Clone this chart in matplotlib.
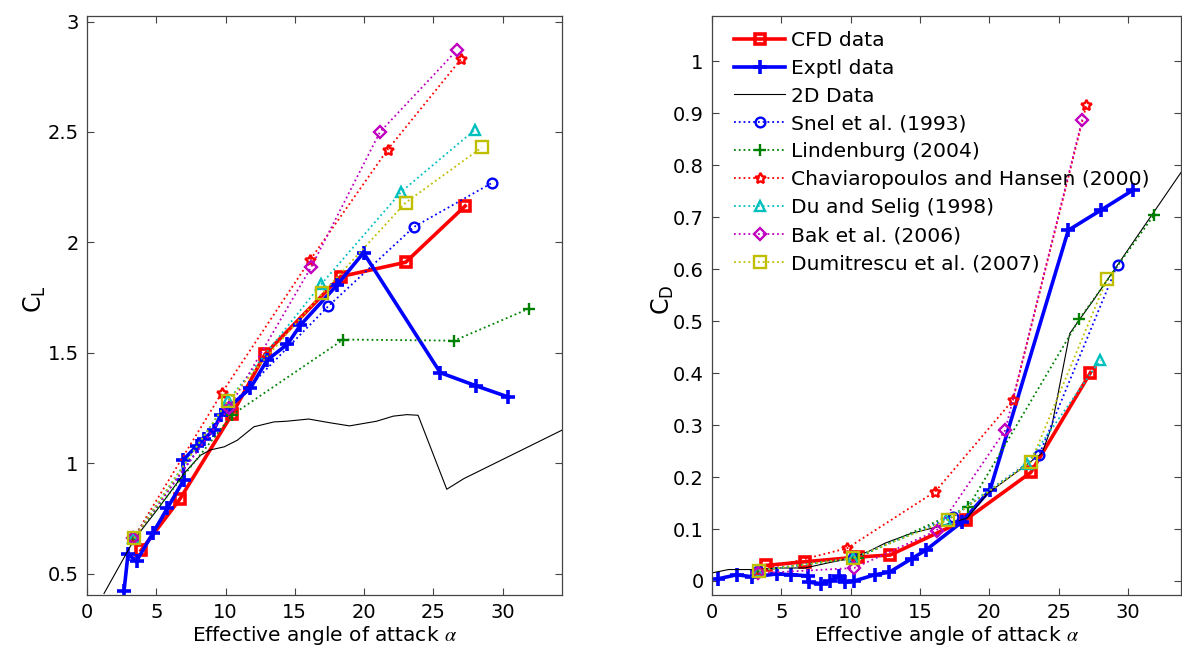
import matplotlib
matplotlib.use("Agg")
import matplotlib.pyplot as plt
from matplotlib.ticker import FuncFormatter, MultipleLocator

plt.rcParams["font.family"] = ["DejaVu Sans"]
plt.rcParams["mathtext.fontset"] = "stix"

# CFD results
alpha_cfd = [3.9, 6.7, 10.5, 12.85, 18.3, 23.0, 27.3]
cl_cfd = [0.605, 0.837, 1.225, 1.494, 1.845, 1.91, 2.165]
cd_cfd = [0.030, 0.037, 0.046, 0.050, 0.118, 0.209, 0.401]

# experimental data
alpha_exp_cl = [2.67, 2.96, 3.58, 4.76, 5.79, 7.0, 6.93, 7.96, 8.44, 9.16, 9.64, 10.0,
                11.8, 13.0, 14.47, 15.4, 18.04, 19.96, 25.5, 28.1, 30.4]
cl_exp = [0.42, 0.588, 0.557, 0.684, 0.795, 0.926, 1.014, 1.08, 1.11, 1.15, 1.218, 1.24,
          1.34, 1.467, 1.539, 1.625, 1.806, 1.953, 1.41, 1.35, 1.30]
alpha_exp_cd = [0.4, 1.8, 2.9, 4.7, 5.7, 6.9, 7.0, 7.85, 8.5, 9.15, 9.6, 10.25,
                11.75, 12.8, 14.4, 15.4, 18.0, 20.05, 25.7, 28.07, 30.35]
cd_exp = [0.004, 0.012, 0.008, 0.0136, 0.012, 0.010, -0.0025, -0.005, 0.0, 0.009, -0.002, 0.0,
          0.012, 0.017, 0.043, 0.059, 0.113, 0.175, 0.675, 0.714, 0.752]

# 2D airfoil data
alpha_2d_cl = [1.23, 3.4, 5.2, 7.0, 8.2, 8.9, 9.9, 10.85, 12.05, 13.5, 14.4, 16.0, 17.55,
               18.95, 20.9, 22.1, 23.1, 23.9, 25.97, 27.2, 34.3]
cl_2d = [0.41, 0.654, 0.80, 0.953, 1.036, 1.06, 1.074, 1.104, 1.165, 1.187, 1.19, 1.20, 1.183,
         1.169, 1.19, 1.213, 1.22, 1.217, 0.882, 0.93, 1.15]
alpha_2d_cd = [0.0, 1.18, 3.1, 4.8, 6.7, 8.4, 10.1, 11.3, 12.5, 14.4, 16.4, 18.4, 19.9,
               22.2, 23.8, 24.5, 25.8, 26.4, 27.5, 33.85]
cd_2d = [0.0155, 0.022, 0.022, 0.025, 0.025, 0.035, 0.044, 0.057, 0.073, 0.092, 0.105, 0.121,
         0.169, 0.214, 0.246, 0.297, 0.476, 0.499, 0.54, 0.787]

# 3D correction models
alpha_snel = [3.35, 10.2, 17.4, 23.6, 29.25]
cl_snel = [0.66, 1.25, 1.71, 2.07, 2.27]
cd_snel = [0.020, 0.044, 0.124, 0.243, 0.609]

alpha_lind = [3.35, 10.5, 18.5, 26.5, 31.9]
cl_lind = [0.66, 1.22, 1.56, 1.555, 1.70]
cd_lind = [0.020, 0.045, 0.143, 0.504, 0.705]

alpha_chav = [3.35, 9.75, 16.1, 21.7, 27.0]
cl_chav = [0.66, 1.32, 1.92, 2.42, 2.83]
cd_chav = [0.020, 0.063, 0.172, 0.348, 0.916]

alpha_du = [3.35, 10.2, 16.9, 22.7, 28.0]
cl_du = [0.66, 1.285, 1.81, 2.23, 2.51]
cd_du = [0.020, 0.044, 0.117, 0.225, 0.425]

alpha_bak = [3.35, 10.25, 16.2, 21.15, 26.7]
cl_bak = [0.66, 1.25, 1.89, 2.50, 2.87]
cd_bak = [0.015, 0.025, 0.097, 0.290, 0.888]

alpha_dum = [3.4, 10.15, 17.0, 23.0, 28.5]
cl_dum = [0.66, 1.28, 1.77, 2.18, 2.43]
cd_dum = [0.020, 0.044, 0.117, 0.229, 0.582]

labels = ["CFD data", "Exptl data", "2D Data", "Snel et al. (1993)", "Lindenburg (2004)",
          "Chaviaropoulos and Hansen (2000)", "Du and Selig (1998)", "Bak et al. (2006)",
          "Dumitrescu et al. (2007)"]

GREEN = (0, 0.5, 0)
CYAN = (0, 0.75, 0.75)
MAGENTA = (0.75, 0, 0.75)
YELLOW = (0.75, 0.75, 0)
STAR = (5, 1, 0)


def draw(ax, cfd, exp_a, exp_v, a2d, v2d, models):
    ax.plot(alpha_cfd, cfd, "-", color="red", lw=2.6, marker="s", ms=7, mfc="none",
            mew=2.6, label=labels[0])
    ax.plot(exp_a, exp_v, "-", color="blue", lw=2.6, marker="+", ms=10, mew=2.6,
            label=labels[1])
    ax.plot(a2d, v2d, "-", color="black", lw=0.8, label=labels[2])
    styles = [("blue", "o", 7), (GREEN, "+", 9), ("red", STAR, 8),
              (CYAN, "^", 7), (MAGENTA, "D", 6), (YELLOW, "s", 8)]
    for (a, v), (c, m, s), lab in zip(models, styles, labels[3:]):
        ax.plot(a, v, ":", color=c, lw=1.3, marker=m, ms=s, mfc="none", mew=1.7,
                label=lab)


def style(ax):
    ax.tick_params(direction="in", top=True, right=True, length=5, width=0.8,
                   labelsize=14, colors="#444444", labelcolor="black", pad=6)
    for sp in ax.spines.values():
        sp.set_color("#444444")
        sp.set_linewidth(0.9)
    ax.xaxis.set_major_locator(MultipleLocator(5))
    ax.yaxis.set_major_formatter(FuncFormatter(lambda v, p: "%g" % round(v, 3)))
    ax.set_xlabel(r"Effective angle of attack $\alpha$", fontsize=14.5, labelpad=1)


fig = plt.figure(figsize=(11.82, 6.51), dpi=100)
ax1 = fig.add_axes([0.0736, 0.086, 0.402, 0.890])
ax2 = fig.add_axes([0.6024, 0.086, 0.397, 0.890])

draw(ax1, cl_cfd, alpha_exp_cl, cl_exp, alpha_2d_cl, cl_2d,
     [(alpha_snel, cl_snel), (alpha_lind, cl_lind), (alpha_chav, cl_chav),
      (alpha_du, cl_du), (alpha_bak, cl_bak), (alpha_dum, cl_dum)])
draw(ax2, cd_cfd, alpha_exp_cd, cd_exp, alpha_2d_cd, cd_2d,
     [(alpha_snel, cd_snel), (alpha_lind, cd_lind), (alpha_chav, cd_chav),
      (alpha_du, cd_du), (alpha_bak, cd_bak), (alpha_dum, cd_dum)])

ax1.set_xlim(0, 34.3)
ax1.set_ylim(0.403, 3.027)
ax1.yaxis.set_major_locator(MultipleLocator(0.5))
style(ax1)
ax1.set_ylabel(r"$\mathregular{C_L}$", fontsize=17)
ax1.yaxis.set_label_coords(-0.082, 0.51)

ax2.set_xlim(0, 33.85)
ax2.set_ylim(-0.027, 1.088)
ax2.yaxis.set_major_locator(MultipleLocator(0.1))
style(ax2)
ax2.set_ylabel(r"$\mathregular{C_D}$", fontsize=17)
ax2.yaxis.set_label_coords(-0.077, 0.51)

ax2.legend(loc="upper left", frameon=False, fontsize=14.6, handlelength=2.5,
           handletextpad=0.3, labelspacing=0.44, borderaxespad=0.0,
           bbox_to_anchor=(0.03, 0.988))

fig.savefig("out.png", dpi=100)
